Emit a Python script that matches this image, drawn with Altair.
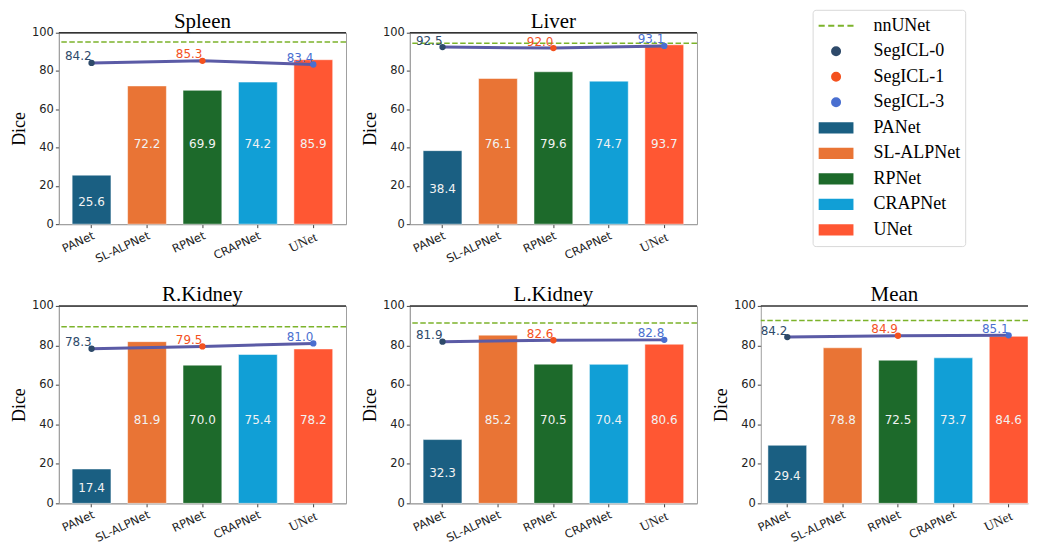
import altair as alt
import pandas as pd

# ---------------- data ----------------
models = ["PANet", "SL-ALPNet", "RPNet", "CRAPNet", "UNet"]
panels = ["Spleen", "Liver", "R.Kidney", "L.Kidney", "Mean"]

bar_spleen = [25.6, 72.2, 69.9, 74.2, 85.9]
bar_liver = [38.4, 76.1, 79.6, 74.7, 93.7]
bar_rkidney = [17.4, 81.9, 70.0, 75.4, 78.2]
bar_lkidney = [32.3, 85.2, 70.5, 70.4, 80.6]
bar_mean = [29.4, 78.8, 72.5, 73.7, 84.6]

segicl_names = ["SegICL-0", "SegICL-1", "SegICL-3"]
segicl_at = ["PANet", "RPNet", "UNet"]
seg_spleen = [84.2, 85.3, 83.4]
seg_liver = [92.5, 92.0, 93.1]
seg_rkidney = [78.3, 79.5, 81.0]
seg_lkidney = [81.9, 82.6, 82.8]
seg_mean = [84.2, 84.9, 85.1]

nnunet = [95.1, 94.5, 89.5, 91.3, 92.6]

y_ticks = [0, 20, 40, 60, 80, 100]

legend_entries = ["nnUNet"] + segicl_names + models
legend_colors = ["#7cb32b", "#2e4a6a", "#f4511e", "#4a6fd0",
                 "#1a5f82", "#e97435", "#1d6a2b", "#119fd6", "#ff5733"]

# legend symbol paths (scaled by sqrt(symbolSize)/2)
dash_path = "M-1,0H-0.65M-0.45,0H-0.1M0.1,0H0.45M0.65,0H1"
circ_path = "M0.23,0A0.23,0.23,0,1,1,-0.23,0A0.23,0.23,0,1,1,0.23,0Z"
rect_path = "M-0.94,-0.266H0.94V0.266H-0.94Z"
legend_shapes = [dash_path] + [circ_path] * 3 + [rect_path] * 5

W = 288
W_LAST = 268  # right-most panel is cut by the page edge
H_TOP, H_BOTTOM = 192, 198

color_scale = alt.Scale(domain=legend_entries, range=legend_colors)
y_scale = alt.Scale(domain=[0, 100], nice=False)

x_axis = alt.Axis(
    labelAngle=-25, labelAlign="right", labelBaseline="top",
    labelPadding=2, tickSize=3.5, title=None,
    labelFont={"condition": {"test": "datum.value === 'UNet'", "value": "Liberation Serif"},
               "value": "DejaVu Sans"},
    labelFontSize={"condition": {"test": "datum.value === 'UNet'", "value": 13.5},
                   "value": 11.5},
)
y_axis = alt.Axis(values=y_ticks, tickSize=3.5, labelPadding=2, titlePadding=3,
                  labelOverlap=False, title="Dice")


def panel(name, bars, seg, nn, height, last=False):
    if last:
        x_scale = alt.Scale(domain=models, paddingInner=0.3, paddingOuter=0.0645, align=1)
    else:
        x_scale = alt.Scale(domain=models, paddingInner=0.3, paddingOuter=0.24)

    def xenc():
        return alt.X("model:N", sort=models, title=None, scale=x_scale, axis=x_axis)

    def yenc(field):
        return alt.Y(field, title="Dice", scale=y_scale, axis=y_axis)

    bdf = pd.DataFrame({"model": models, "series": models, "value": bars})
    sdf = pd.DataFrame({"model": segicl_at, "series": segicl_names, "value": seg})
    ndf = pd.DataFrame({"value": [nn]})
    color = alt.Color("series:N", scale=color_scale, legend=None)

    bar_l = alt.Chart(bdf).mark_bar(stroke="white", strokeOpacity=0.5, strokeWidth=1).encode(
        x=xenc(), y=yenc("value:Q"), color=color)
    bar_txt = alt.Chart(bdf).transform_calculate(
        ly="datum.value < 50 ? datum.value / 2 - 1 : 42"
    ).mark_text(color="#f2f2f2", font="DejaVu Sans", fontSize=12, baseline="middle").encode(
        x=xenc(), y=yenc("ly:Q"), text=alt.Text("value:Q", format=".1f"))
    nn_rule = alt.Chart(ndf).mark_rule(color="#7cb32b", strokeDash=[5.5, 2.5], strokeWidth=1.5).encode(
        y=yenc("value:Q"))
    top_rule = alt.Chart(ndf).transform_calculate(top="100").mark_rule(
        color="#333333", strokeWidth=1.5).encode(y=yenc("top:Q"))
    line = alt.Chart(sdf).mark_line(color="#5b5ba6", strokeWidth=3).encode(
        x=xenc(), y=yenc("value:Q"))
    pts = alt.Chart(sdf).mark_point(filled=True, size=40, opacity=1).encode(
        x=xenc(), y=yenc("value:Q"), color=color)
    ptxt = alt.Chart(sdf).mark_text(align="right", baseline="alphabetic", dx=0, dy=-2.5,
                                    font="DejaVu Sans", fontSize=12).encode(
        x=xenc(), y=yenc("value:Q"), text=alt.Text("value:Q", format=".1f"), color=color)

    props = dict(
        width=W_LAST if last else W, height=height,
        title=alt.TitleParams(name, font="Liberation Serif", fontSize=21, fontWeight="normal",
                              color="black", offset=-5, anchor="middle"),
    )
    if last:
        props["view"] = alt.ViewBackground(stroke="transparent")
    return alt.layer(bar_l, bar_txt, nn_rule, top_rule, line, pts, ptxt).properties(**props)


leg = dict(title=None, orient="none", legendX=52, legendY=-23,
           strokeColor="#d8d8d8", fillColor="white", cornerRadius=3, padding=5,
           labelFont="Liberation Serif", labelFontSize=18, labelColor="black",
           labelOffset=19, labelLimit=100, symbolSize=1225, symbolStrokeWidth=2,
           clipHeight=22, rowPadding=3.6, symbolOffset=0)

ldf = pd.DataFrame({"series": legend_entries})
legend_cell = alt.Chart(ldf).transform_filter("false").mark_point(filled=True, opacity=1).encode(
    color=alt.Color("series:N", scale=color_scale, legend=alt.Legend(**leg)),
    shape=alt.Shape("series:N", scale=alt.Scale(domain=legend_entries, range=legend_shapes),
                    legend=alt.Legend(**leg)),
    stroke=alt.Stroke("series:N", scale=color_scale, legend=alt.Legend(**leg)),
).properties(width=W_LAST, height=H_TOP, view=alt.ViewBackground(stroke="transparent"))

sp = panel(panels[0], bar_spleen, seg_spleen, nnunet[0], H_TOP)
lv = panel(panels[1], bar_liver, seg_liver, nnunet[1], H_TOP)
rk = panel(panels[2], bar_rkidney, seg_rkidney, nnunet[2], H_BOTTOM)
lk = panel(panels[3], bar_lkidney, seg_lkidney, nnunet[3], H_BOTTOM)
mn = panel(panels[4], bar_mean, seg_mean, nnunet[4], H_BOTTOM, last=True)

chart = alt.concat(
    sp, lv, legend_cell, rk, lk, mn,
    columns=3, spacing={"row": 82, "column": 64}, bounds="flush", align="each",
).resolve_scale(
    color="independent", shape="independent", stroke="independent"
).properties(
    padding={"left": 2, "top": 0, "right": 0, "bottom": 0}
).configure_view(
    stroke="#a0a0a0", strokeWidth=1
).configure_axis(
    labelFont="DejaVu Sans", labelFontSize=11.5, labelColor="#222222",
    tickColor="#444444", domainColor="#a0a0a0", grid=False,
    titleFont="Liberation Serif", titleFontWeight="normal", titleFontSize=18, titleColor="black",
)

chart.save("out.html", embed_options={"renderer": "svg", "actions": False})
